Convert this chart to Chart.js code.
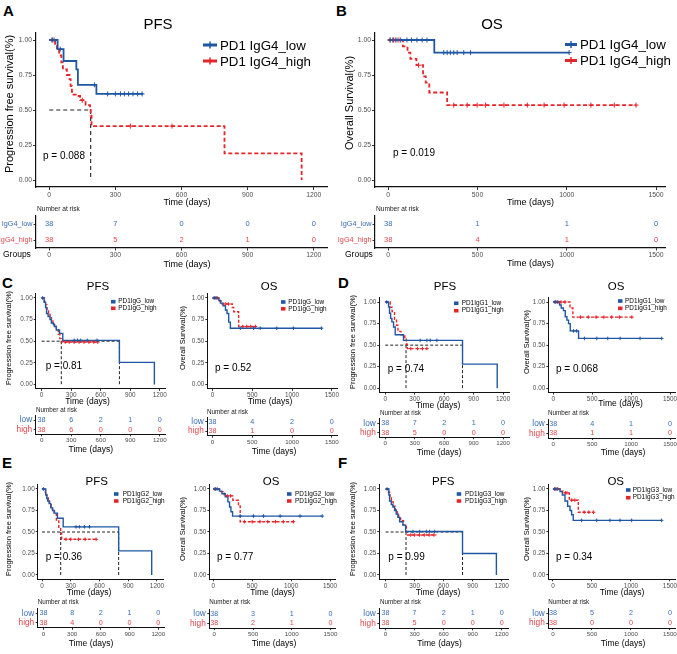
<!DOCTYPE html>
<html><head><meta charset="utf-8">
<script src="https://cdn.jsdelivr.net/npm/chart.js@4.4.1/dist/chart.umd.min.js"></script>
<style>
html,body{margin:0;padding:0;background:#fff;overflow:hidden}
#root{position:relative;width:677px;height:654px;overflow:hidden;background:#fff}
#root canvas{position:absolute}
.lbl{position:absolute;font:bold 15px "Liberation Sans",Arial,sans-serif;line-height:15px;color:#000}
</style></head><body><div id="root">
<div class="lbl" style="left:3px;top:3px">A</div>
<div class="lbl" style="left:336px;top:3px">B</div>
<div class="lbl" style="left:2px;top:275px">C</div>
<div class="lbl" style="left:338px;top:275px">D</div>
<div class="lbl" style="left:2px;top:455px">E</div>
<div class="lbl" style="left:338px;top:455px">F</div>
</div>
<script>
// ---------------- DATA ----------------
const Y_TICKS = [0, 0.25, 0.5, 0.75, 1];
const PFS_TICKS = [0, 300, 600, 900, 1200];
const OS_TICKS = [0, 500, 1000, 1500];

// A: PFS, PD1 IgG4
const A_low_t = [0, 38, 65, 123, 130, 214, 426];
const A_low_s = [1, 0.935, 0.85, 0.79, 0.68, 0.615, 0.615];
const A_low_cens = [12, 22, 50, 205, 265, 300, 323, 341, 360, 380, 401, 421];
const A_high_t = [0, 27, 35, 45, 55, 62, 80, 92, 97, 103, 110, 128, 140, 165, 185, 188, 192, 795, 1145];
const A_high_s = [1, 0.97, 0.93, 0.89, 0.84, 0.79, 0.75, 0.72, 0.67, 0.63, 0.61, 0.60, 0.57, 0.535, 0.51, 0.46, 0.385, 0.19, 0];
const A_high_cens = [15, 150, 368, 557];
const A_median = [188];
const A_risk_low = [38, 7, 0, 0, 0];
const A_risk_high = [38, 5, 2, 1, 0];

// B: OS, PD1 IgG4
const B_low_t = [0, 258, 1013];
const B_low_s = [1, 0.91, 0.91];
const B_low_cens = [11, 30, 49, 70, 105, 130, 161, 190, 217, 311, 330, 348, 367, 386, 423, 461, 1013];
const B_high_t = [0, 82, 108, 124, 158, 195, 210, 230, 330, 1388];
const B_high_s = [1, 0.955, 0.91, 0.865, 0.82, 0.74, 0.695, 0.625, 0.535, 0.535];
const B_high_cens = [10, 25, 40, 60, 170, 367, 442, 498, 545, 648, 779, 873, 985, 1135, 1266, 1388];
const B_risk_low = [38, 1, 1, 0];
const B_risk_high = [38, 4, 1, 0];

// C: PD1 IgG
const C_pfs_low_t = [0, 25, 40, 50, 66, 85, 99, 120, 132, 149, 182, 215, 790, 1145];
const C_pfs_low_s = [1, 0.95, 0.89, 0.82, 0.785, 0.75, 0.71, 0.69, 0.67, 0.63, 0.59, 0.51, 0.255, 0];
const C_pfs_low_cens = [10, 331, 365, 397, 463, 563];
const C_pfs_high_t = [0, 30, 42, 55, 70, 85, 100, 115, 130, 150, 170, 185, 200, 570];
const C_pfs_high_s = [1, 0.95, 0.92, 0.87, 0.83, 0.79, 0.75, 0.71, 0.67, 0.63, 0.58, 0.53, 0.49, 0.49];
const C_pfs_high_cens = [240, 280, 330, 380, 430, 480, 530, 570];
const C_pfs_median = [200, 790];
const C_os_low_t = [0, 80, 100, 133, 163, 183, 204, 225, 1371];
const C_os_low_s = [1, 0.97, 0.94, 0.91, 0.86, 0.82, 0.72, 0.65, 0.65];
const C_os_low_cens = [20, 45, 350, 517, 600, 808, 1017, 1371];
const C_os_high_t = [0, 79, 121, 250, 267, 329, 540];
const C_os_high_s = [1, 0.965, 0.93, 0.89, 0.84, 0.67, 0.67];
const C_os_high_cens = [30, 60, 160, 200, 380, 430, 480, 540];
const C_pfs_risk_low = [38, 6, 2, 1, 0];
const C_pfs_risk_high = [38, 6, 0, 0, 0];
const C_os_risk_low = [38, 4, 2, 0];
const C_os_risk_high = [38, 1, 0, 0];

// D: PD1 IgG1
const D_pfs_low_t = [0, 34, 44, 55, 68, 85, 102, 186, 787, 1140];
const D_pfs_low_s = [1, 0.945, 0.87, 0.81, 0.77, 0.71, 0.62, 0.555, 0.28, 0];
const D_pfs_low_cens = [15, 356, 424, 458, 526];
const D_pfs_high_t = [0, 51, 70, 95, 115, 130, 160, 200, 215, 225, 424];
const D_pfs_high_s = [1, 0.94, 0.89, 0.80, 0.73, 0.66, 0.62, 0.58, 0.51, 0.46, 0.46];
const D_pfs_high_cens = [260, 330, 380, 424];
const D_pfs_median = [212, 787];
const D_os_low_t = [0, 81, 102, 130, 154, 175, 196, 218, 325, 1393];
const D_os_low_s = [1, 0.965, 0.93, 0.9, 0.83, 0.79, 0.75, 0.665, 0.578, 0.578];
const D_os_low_cens = [20, 50, 260, 300, 400, 559, 700, 859, 1115, 1393];
const D_os_high_t = [0, 215, 252, 1010];
const D_os_high_s = [1, 0.93, 0.825, 0.825];
const D_os_high_cens = [30, 60, 100, 150, 350, 450, 550, 650, 750, 850, 1010];
const D_pfs_risk_low = [38, 7, 2, 1, 0];
const D_pfs_risk_high = [38, 5, 0, 0, 0];
const D_os_risk_low = [38, 4, 1, 0];
const D_os_risk_high = [38, 1, 1, 0];

// E: PD1 IgG2
const E_pfs_low_t = [0, 39, 50, 60, 74, 91, 110, 126, 161, 221, 800, 1145];
const E_pfs_low_s = [1, 0.93, 0.89, 0.86, 0.83, 0.78, 0.75, 0.72, 0.66, 0.56, 0.28, 0];
const E_pfs_low_cens = [15, 355, 390, 442, 495];
const E_pfs_high_t = [0, 35, 50, 65, 80, 95, 110, 130, 150, 175, 195, 205, 565];
const E_pfs_high_s = [1, 0.96, 0.92, 0.88, 0.84, 0.80, 0.76, 0.71, 0.64, 0.555, 0.485, 0.415, 0.415];
const E_pfs_high_cens = [250, 300, 380, 450, 565];
const E_pfs_median = [195, 800];
const E_os_low_t = [0, 80, 111, 154, 188, 209, 227, 248, 1400];
const E_os_low_s = [1, 0.975, 0.945, 0.91, 0.85, 0.79, 0.735, 0.685, 0.685];
const E_os_low_cens = [20, 50, 346, 517, 645, 859, 1115, 1400];
const E_os_high_t = [0, 80, 124, 141, 252, 324, 346, 1030];
const E_os_high_s = [1, 0.97, 0.95, 0.92, 0.87, 0.82, 0.62, 0.62];
const E_os_high_cens = [30, 180, 220, 400, 500, 600, 700, 800, 900, 1030];
const E_pfs_risk_low = [38, 8, 2, 1, 0];
const E_pfs_risk_high = [38, 4, 0, 0, 0];
const E_os_risk_low = [38, 3, 1, 0];
const E_os_risk_high = [38, 2, 1, 0];

// F: PD1 IgG3
const F_pfs_low_t = [0, 34, 41, 59, 76, 93, 110, 127, 145, 179, 207, 795, 1145];
const F_pfs_low_s = [1, 0.93, 0.86, 0.82, 0.79, 0.75, 0.71, 0.67, 0.62, 0.58, 0.505, 0.25, 0];
const F_pfs_low_cens = [15, 283, 352, 421, 455, 507];
const F_pfs_high_t = [0, 30, 45, 60, 80, 100, 120, 135, 155, 185, 215, 225, 525];
const F_pfs_high_s = [1, 0.96, 0.9, 0.85, 0.8, 0.76, 0.72, 0.68, 0.63, 0.58, 0.5, 0.465, 0.465];
const F_pfs_high_cens = [260, 300, 350, 400, 450, 500];
const F_pfs_median = [211, 795];
const F_os_low_t = [0, 90, 120, 154, 188, 218, 239, 260, 1393];
const F_os_low_s = [1, 0.97, 0.93, 0.86, 0.80, 0.75, 0.70, 0.635, 0.635];
const F_os_low_cens = [20, 50, 367, 560, 731, 859, 1009, 1393];
const F_os_high_t = [0, 103, 132, 209, 325, 520];
const F_os_high_s = [1, 0.975, 0.955, 0.87, 0.73, 0.73];
const F_os_high_cens = [30, 60, 160, 180, 240, 280, 400, 460, 520];
const F_pfs_risk_low = [38, 7, 2, 1, 0];
const F_pfs_risk_high = [38, 5, 0, 0, 0];
const F_os_risk_low = [38, 5, 2, 0];
const F_os_risk_high = [38, 0, 0, 0];

// ---------------- STYLE / LAYOUT ----------------
const FONT = '"Liberation Sans", Arial, Helvetica, sans-serif';
const BLUE = '#1F57A2', RED = '#E4262B', BLUE_T = '#3A6DB5', RED_T = '#E0474D';
const BIG = {tick:6.8, title:15, legend:13.3, p:10, ytitle:11, xtitle:9, lw:1.8, dash:[4,2.5], cr:2.5, medW:1.1, medDash:[4,3], tl:3, tp:1, axW:1.2};
const SMALL = {tick:6.4, title:11.5, legend:6.4, p:10, ytitle:7.5, xtitle:8.5, lw:1.4, dash:[3,1.8], cr:1.8, medW:1, medDash:[3,2], tl:2, tp:1, axW:1};
const BIG_R = {tick:6.8, row:7.3, num:7.5, nar:6.6, xtitle:9, tl:2.5, tp:1, rp:1, axW:1.2};
const SMALL_R = {tick:6.2, row:8.3, num:7.2, nar:6.3, xtitle:8.5, tl:2, tp:0.5, rp:1.5, axW:1};

const root = document.getElementById('root');
function makeCanvas(box){
  const cv = document.createElement('canvas');
  cv.width = box[2]; cv.height = box[3];
  cv.style.left = box[0]+'px'; cv.style.top = box[1]+'px';
  cv.style.width = box[2]+'px'; cv.style.height = box[3]+'px';
  root.appendChild(cv);
  return cv;
}
function survAt(t, s, x){ let v = s[0]; for (let i=0;i<t.length;i++){ if (t[i] <= x) v = s[i]; } return v; }
function drawItems(ctx, box, items){
  items.forEach(it => {
    ctx.save();
    const x = it.x - box[0], y = it.y - box[1];
    if (it.kind === 'text'){
      ctx.font = it.size + 'px ' + FONT;
      ctx.fillStyle = it.color || '#000';
      ctx.textAlign = it.align || 'left';
      ctx.textBaseline = 'middle';
      ctx.translate(x, y);
      if (it.rot) ctx.rotate(it.rot);
      ctx.fillText(it.text, 0, 0);
    } else if (it.kind === 'legline'){
      const x2 = it.x2 - box[0];
      ctx.strokeStyle = it.color; ctx.lineWidth = 3;
      ctx.beginPath(); ctx.moveTo(x, y); ctx.lineTo(x2, y); ctx.stroke();
      const mx = (x + x2)/2;
      ctx.lineWidth = 1.5; ctx.beginPath(); ctx.moveTo(mx, y-3.5); ctx.lineTo(mx, y+3.5); ctx.stroke();
    } else if (it.kind === 'legrect'){
      ctx.fillStyle = it.color;
      ctx.fillRect(x, y - it.h/2, it.w, it.h);
    }
    ctx.restore();
  });
}
function textPlugin(box, under, over){
  return { id:'txt',
    beforeDatasetsDraw(chart){ drawItems(chart.ctx, box, under); },
    afterDraw(chart){ drawItems(chart.ctx, box, over); } };
}
function scaleX(sp, st, bx, by, bh, B){
  return {type:'linear', min:sp.xr[0], max:sp.xr[1],
    afterBuildTicks: s => { s.ticks = sp.xt.map(v => ({value:v})); },
    afterFit: s => { s.height = by + bh - B; },
    grid:{display:true, drawOnChartArea:false, drawTicks:true, tickLength:st.tl, color:'#333', lineWidth:1},
    border:{display:true, color:'#111', width:st.axW},
    ticks:{autoSkip:false, maxRotation:0, minRotation:0, padding:st.tp, font:{family:FONT, size:st.tick}, color:'#4d4d4d', callback: v => String(v)}};
}
function buildKM(sp, st){
  const cv = makeCanvas(sp.box);
  const [bx, by, bw, bh] = sp.box;
  const [L, T, R, B] = sp.area;
  const ds = [];
  if (sp.med && sp.med.length){
    const mMax = Math.max(...sp.med);
    const segs = [[{x:0,y:0.5},{x:mMax,y:0.5}]].concat(sp.med.map(m => [{x:m,y:0.5},{x:m,y:0}]));
    segs.forEach(d => ds.push({data:d, borderColor:'#222', borderWidth:st.medW, borderDash:st.medDash, pointRadius:0, order:9}));
  }
  sp.curves.forEach((c, k) => {
    ds.push({data:c.t.map((t,i) => ({x:t, y:c.s[i]})), stepped:'before', borderColor:c.color, borderWidth:st.lw,
      borderDash: k === 1 ? st.dash : [], pointRadius:0, fill:false, order: k === 0 ? 3 : 4});
    ds.push({data:c.c.map(t => ({x:t, y:survAt(c.t, c.s, t)})), showLine:false, pointStyle:'cross', pointRadius:st.cr,
      pointBorderColor:c.color, pointBorderWidth:1, order: k === 0 ? 1 : 2});
  });
  const under = [{kind:'text', text:sp.p.text, x:sp.p.x, y:sp.p.y, size:st.p, color:'#000'}];
  const over = [
    {kind:'text', text:sp.title.text, x:sp.title.x, y:sp.title.y, size:st.title, align:'center'},
    {kind:'text', text:sp.ytitle.text, x:sp.ytitle.x, y:sp.ytitle.y, size:st.ytitle, align:'center', rot:-Math.PI/2},
    {kind:'text', text:'Time (days)', x:sp.xtitle.x, y:sp.xtitle.y, size:st.xtitle, align:'center'}
  ];
  sp.legend.names.forEach((n, i) => {
    const y = sp.legend.rows[i], col = sp.curves[i].color;
    if (sp.legend.kind === 'line') over.push({kind:'legline', x:sp.legend.sym[0], x2:sp.legend.sym[1], y:y-1, color:col});
    else over.push({kind:'legrect', x:sp.legend.sym[0], y:y, w:sp.legend.sym[1]-sp.legend.sym[0], h:3.6, color:col});
    over.push({kind:'text', text:n, x:sp.legend.tx, y:y, size:st.legend});
  });
  new Chart(cv, {type:'line', data:{datasets:ds},
    options:{responsive:false, maintainAspectRatio:false, animation:false, devicePixelRatio:1, events:[],
      layout:{padding:{left:0, top:T-by, right:bx+bw-R, bottom:0}},
      plugins:{legend:{display:false}, tooltip:{enabled:false}, title:{display:false}},
      scales:{
        x: scaleX(sp, st, bx, by, bh, B),
        y: {type:'linear', min:-0.05, max:1.05,
          afterBuildTicks: s => { s.ticks = Y_TICKS.map(v => ({value:v})); },
          afterFit: s => { s.width = L - bx; },
          grid:{display:true, drawOnChartArea:false, drawTicks:true, tickLength:st.tl, color:'#333', lineWidth:1},
          border:{display:true, color:'#111', width:st.axW},
          ticks:{autoSkip:false, padding:st.tp, font:{family:FONT, size:st.tick}, color:'#4d4d4d', callback: v => Number(v).toFixed(2)}}
      }},
    plugins:[textPlugin(sp.box, under, over)]});
}
function buildRisk(sp, st){
  const cv = makeCanvas(sp.box);
  const [bx, by, bw, bh] = sp.box;
  const [L, T, R, B] = sp.area;
  const tcol = [BLUE_T, RED_T];
  const ds = sp.rows.map((r, i) => ({data: sp.xt.map(t => ({x:t, y:sp.labels[i]})), counts:r, tcolor:tcol[i], pointRadius:0, showLine:false}));
  const nums = {id:'nums', afterDatasetsDraw(chart){
    const ctx = chart.ctx; ctx.save();
    ctx.font = st.num + 'px ' + FONT; ctx.textAlign = 'center'; ctx.textBaseline = 'middle';
    chart.data.datasets.forEach((d, i) => {
      ctx.fillStyle = d.tcolor;
      chart.getDatasetMeta(i).data.forEach((el, j) => ctx.fillText(String(d.counts[j]), el.x, el.y));
    });
    ctx.restore();
  }};
  const over = [
    {kind:'text', text:'Number at risk', x:sp.nar.x, y:sp.nar.y, size:st.nar, color:'#1a1a1a'},
    {kind:'text', text:'Time (days)', x:sp.xtitle.x, y:sp.xtitle.y, size:st.xtitle, align:'center'}
  ];
  if (sp.groups) over.push({kind:'text', text:'Groups', x:sp.groups.x, y:sp.groups.y, size:8.5, color:'#000'});
  new Chart(cv, {type:'scatter', data:{datasets:ds},
    options:{responsive:false, maintainAspectRatio:false, animation:false, devicePixelRatio:1, events:[],
      layout:{padding:{left:0, top:T-by, right:bx+bw-R, bottom:0}},
      plugins:{legend:{display:false}, tooltip:{enabled:false}, title:{display:false}},
      scales:{
        x: scaleX(sp, st, bx, by, bh, B),
        y: {type:'category', labels:sp.labels, offset:true,
          afterFit: s => { s.width = L - bx; },
          grid:{display:true, drawOnChartArea:false, drawTicks:true, tickLength:st.tl, color:'#333', lineWidth:1},
          border:{display:true, color:'#111', width:st.axW},
          ticks:{autoSkip:false, padding:st.rp, font:{family:FONT, size:st.row}, color: c => tcol[c.index] || '#000'}}
      }},
    plugins:[nums, textPlugin(sp.box, [], over)]});
}

function curves(lt, ls, lc, ht, hs, hc){
  return [{t:lt, s:ls, c:lc, color:BLUE}, {t:ht, s:hs, c:hc, color:RED}];
}
const PFS_Y = 'Progression free survival(%)', OS_Y = 'Overall Survival(%)';
const GRP_BIG = ['IgG4_low', 'IgG4_high'], GRP = ['low', 'high'];

// ---- A / B ----
buildKM({box:[0,12,336,198], area:[36,33,327,187], xr:[-60,1260], xt:PFS_TICKS,
  title:{text:'PFS', x:158, y:25}, p:{text:'p = 0.088', x:43, y:156},
  ytitle:{text:PFS_Y, x:10, y:104}, xtitle:{x:187, y:202.5},
  legend:{kind:'line', names:['PD1 IgG4_low','PD1 IgG4_high'], sym:[203,217], tx:220, rows:[46,62]},
  curves:curves(A_low_t, A_low_s, A_low_cens, A_high_t, A_high_s, A_high_cens), med:A_median}, BIG);
buildKM({box:[338,12,339,198], area:[375,33,665,187], xr:[-74,1550], xt:OS_TICKS,
  title:{text:'OS', x:492, y:25}, p:{text:'p = 0.019', x:393, y:153},
  ytitle:{text:OS_Y, x:350, y:103}, xtitle:{x:530.5, y:202.5},
  legend:{kind:'line', names:['PD1 IgG4_low','PD1 IgG4_high'], sym:[565,577], tx:580, rows:[45.5,61.5]},
  curves:curves(B_low_t, B_low_s, B_low_cens, B_high_t, B_high_s, B_high_cens), med:[]}, BIG);
buildRisk({box:[0,203,336,68], area:[36,216,327,248], xr:[-60,1260], xt:PFS_TICKS, labels:GRP_BIG,
  rows:[A_risk_low, A_risk_high], nar:{x:37, y:209}, groups:{x:3, y:255}, xtitle:{x:187, y:265}}, BIG_R);
buildRisk({box:[338,203,339,68], area:[375,216,665,248], xr:[-74,1550], xt:OS_TICKS, labels:GRP_BIG,
  rows:[B_risk_low, B_risk_high], nar:{x:376, y:209}, groups:{x:345, y:255}, xtitle:{x:530.5, y:263.3}}, BIG_R);

// ---- C ----
buildKM({box:[0,278,172,130], area:[35.7,293.6,165.7,388.8], xr:[-60,1260], xt:PFS_TICKS,
  title:{text:'PFS', x:98, y:287.3}, p:{text:'p = 0.81', x:45.7, y:366.7},
  ytitle:{text:PFS_Y, x:9, y:338}, xtitle:{x:87.5, y:401.7},
  legend:{kind:'rect', names:['PD1IgG_low','PD1IgG_high'], sym:[111,115.5], tx:118.3, rows:[301.7,308.3]},
  curves:curves(C_pfs_low_t, C_pfs_low_s, C_pfs_low_cens, C_pfs_high_t, C_pfs_high_s, C_pfs_high_cens), med:C_pfs_median}, SMALL);
buildKM({box:[174,278,170,130], area:[207.3,293.6,337,388.8], xr:[-65,1565], xt:OS_TICKS,
  title:{text:'OS', x:269, y:287.3}, p:{text:'p = 0.52', x:215, y:368.3},
  ytitle:{text:OS_Y, x:183, y:338}, xtitle:{x:270, y:401.7},
  legend:{kind:'rect', names:['PD1IgG_low','PD1IgG_high'], sym:[281,285.5], tx:288.3, rows:[302,308.8]},
  curves:curves(C_os_low_t, C_os_low_s, C_os_low_cens, C_os_high_t, C_os_high_s, C_os_high_cens), med:[]}, SMALL);
buildRisk({box:[0,404,172,52], area:[35.7,415.4,165.7,434.3], xr:[-60,1260], xt:PFS_TICKS, labels:GRP,
  rows:[C_pfs_risk_low, C_pfs_risk_high], nar:{x:36, y:410.7}, xtitle:{x:90.8, y:450}}, SMALL_R);
buildRisk({box:[174,404,170,54], area:[207.3,417,337,435.7], xr:[-65,1565], xt:OS_TICKS, labels:GRP,
  rows:[C_os_risk_low, C_os_risk_high], nar:{x:207, y:412.3}, xtitle:{x:274, y:451.7}}, SMALL_R);

// ---- D ----
buildKM({box:[342,278,174,134], area:[379.3,297.7,509,392.6], xr:[-60,1260], xt:PFS_TICKS,
  title:{text:'PFS', x:445, y:287.3}, p:{text:'p = 0.74', x:387.7, y:369},
  ytitle:{text:PFS_Y, x:352.7, y:342}, xtitle:{x:438, y:406},
  legend:{kind:'rect', names:['PD1IgG1_low','PD1IgG1_high'], sym:[454,458.5], tx:461.7, rows:[303.3,310.7]},
  curves:curves(D_pfs_low_t, D_pfs_low_s, D_pfs_low_cens, D_pfs_high_t, D_pfs_high_s, D_pfs_high_cens), med:D_pfs_median}, SMALL);
buildKM({box:[518,278,163,134], area:[548.3,297.7,675,392.6], xr:[-64,1564], xt:OS_TICKS,
  title:{text:'OS', x:616, y:287.3}, p:{text:'p = 0.068', x:556, y:369},
  ytitle:{text:OS_Y, x:526.7, y:342}, xtitle:{x:620.5, y:404},
  legend:{kind:'rect', names:['PD1IgG1_low','PD1IgG1_high'], sym:[618,622.5], tx:625, rows:[301,308.3]},
  curves:curves(D_os_low_t, D_os_low_s, D_os_low_cens, D_os_high_t, D_os_high_s, D_os_high_cens), med:[]}, SMALL);
buildRisk({box:[342,404,174,54], area:[379.3,418.8,509,437.3], xr:[-60,1260], xt:PFS_TICKS, labels:GRP,
  rows:[D_pfs_risk_low, D_pfs_risk_high], nar:{x:380, y:413.3}, xtitle:{x:439, y:452.3}}, SMALL_R);
buildRisk({box:[518,404,163,54], area:[548.3,419.4,675,438], xr:[-64,1564], xt:OS_TICKS, labels:GRP,
  rows:[D_os_risk_low, D_os_risk_high], nar:{x:548, y:413.3}, xtitle:{x:623, y:452.3}}, SMALL_R);

// ---- E ----
buildKM({box:[0,470,172,130], area:[37.7,484.7,163,579.3], xr:[-45,1263], xt:PFS_TICKS,
  title:{text:'PFS', x:96.7, y:481.7}, p:{text:'p = 0.36', x:45.7, y:557.7},
  ytitle:{text:PFS_Y, x:9, y:529}, xtitle:{x:89, y:592.3},
  legend:{kind:'rect', names:['PD1IgG2_low','PD1IgG2_high'], sym:[114,118.5], tx:122.7, rows:[494,501]},
  curves:curves(E_pfs_low_t, E_pfs_low_s, E_pfs_low_cens, E_pfs_high_t, E_pfs_high_s, E_pfs_high_cens), med:E_pfs_median}, SMALL);
buildKM({box:[174,470,170,130], area:[209.3,484.7,335,579.3], xr:[-51,1564], xt:OS_TICKS,
  title:{text:'OS', x:271, y:481.7}, p:{text:'p = 0.77', x:217, y:557.7},
  ytitle:{text:OS_Y, x:183, y:529}, xtitle:{x:272.5, y:592.3},
  legend:{kind:'rect', names:['PD1IgG2_low','PD1IgG2_high'], sym:[287,291.5], tx:295, rows:[494,501]},
  curves:curves(E_os_low_t, E_os_low_s, E_os_low_cens, E_os_high_t, E_os_high_s, E_os_high_cens), med:[]}, SMALL);
buildRisk({box:[0,596,172,58], area:[37.7,608.6,164,627.8], xr:[-60,1260], xt:PFS_TICKS, labels:GRP,
  rows:[E_pfs_risk_low, E_pfs_risk_high], nar:{x:37.7, y:602.7}, xtitle:{x:91, y:643.3}}, SMALL_R);
buildRisk({box:[174,596,170,58], area:[209.3,609.3,335.5,628], xr:[-65,1565], xt:OS_TICKS, labels:GRP,
  rows:[E_os_risk_low, E_os_risk_high], nar:{x:209.3, y:602.7}, xtitle:{x:274, y:643.3}}, SMALL_R);

// ---- F ----
buildKM({box:[342,470,174,130], area:[379.3,484.7,508,579.3], xr:[-65,1265], xt:PFS_TICKS,
  title:{text:'PFS', x:443.3, y:481.7}, p:{text:'p = 0.99', x:388.3, y:557.7},
  ytitle:{text:PFS_Y, x:352.7, y:529}, xtitle:{x:438, y:592.3},
  legend:{kind:'rect', names:['PD1IgG3_low','PD1IgG3_high'], sym:[456.7,461.2], tx:465, rows:[494,501]},
  curves:curves(F_pfs_low_t, F_pfs_low_s, F_pfs_low_cens, F_pfs_high_t, F_pfs_high_s, F_pfs_high_cens), med:F_pfs_median}, SMALL);
buildKM({box:[518,470,163,130], area:[548.3,484.7,675,579.3], xr:[-60,1565], xt:OS_TICKS,
  title:{text:'OS', x:615.7, y:481.7}, p:{text:'p = 0.34', x:556, y:557.7},
  ytitle:{text:OS_Y, x:526.7, y:529}, xtitle:{x:622, y:592.3},
  legend:{kind:'rect', names:['PD1IgG3_low','PD1IgG3_high'], sym:[626,630.5], tx:632.7, rows:[490,497.7]},
  curves:curves(F_os_low_t, F_os_low_s, F_os_low_cens, F_os_high_t, F_os_high_s, F_os_high_cens), med:[]}, SMALL);
buildRisk({box:[342,596,174,58], area:[379.3,608.3,508,628.3], xr:[-65,1265], xt:PFS_TICKS, labels:GRP,
  rows:[F_pfs_risk_low, F_pfs_risk_high], nar:{x:380, y:602.7}, xtitle:{x:439.5, y:643.3}}, SMALL_R);
buildRisk({box:[518,596,163,58], area:[548.3,608.6,675,628], xr:[-60,1565], xt:OS_TICKS, labels:GRP,
  rows:[F_os_risk_low, F_os_risk_high], nar:{x:548.3, y:602.7}, xtitle:{x:623, y:643.3}}, SMALL_R);
</script></body></html>
